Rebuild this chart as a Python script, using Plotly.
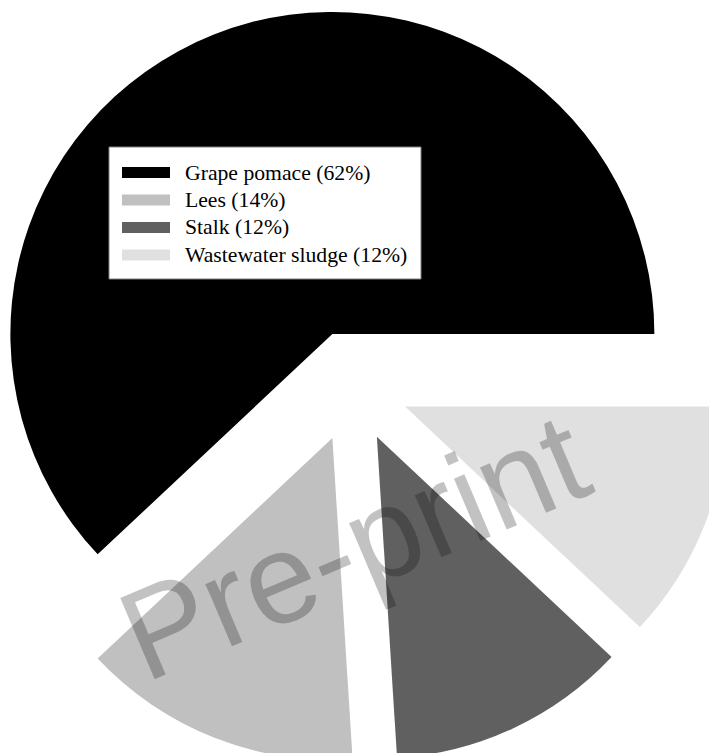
import math
import plotly.graph_objects as go

# ---- data ----
labels = ["Grape pomace", "Lees", "Stalk", "Wastewater sludge"]
shares = [62, 14, 12, 12]
colors = ["#000000", "#c0c0c0", "#606060", "#e0e0e0"]
watermark = "Pre-print"

# ---- layout geometry (pixels, in window coordinates) ----
W, H = 740, 770          # figure slightly larger than the window; the window crops it
OFF = 8                  # page body margin
CX, CY = 353, 386        # pie centre
R = 322                  # pie radius
GAP = 56                 # how far each slice is pulled out

total = sum(shares)
# first slice starts at 3 o'clock and runs counterclockwise
rotation = 90 - 360 * shares[0] / total

def px(x):
    return (x - OFF) / W

def py(y):
    return 1 - (y - OFF) / H

fig = go.Figure()
cum = 0.0
for i, v in enumerate(shares):
    mid = (cum + v / 2) / total * 2 * math.pi   # counterclockwise from 3 o'clock
    cum += v
    vx = CX + GAP * math.cos(mid)
    vy = CY - GAP * math.sin(mid)
    cols = [c if j == i else "rgba(0,0,0,0)" for j, c in enumerate(colors)]
    fig.add_trace(go.Pie(
        labels=labels, values=shares, sort=False,
        direction="counterclockwise", rotation=rotation,
        marker=dict(colors=cols, line=dict(width=0)),
        textinfo="none", hoverinfo="skip", showlegend=False,
        domain=dict(x=[max(0, px(vx - R)), min(1, px(vx + R))],
                    y=[max(0, py(vy + R)), min(1, py(vy - R))]),
    ))

shapes = [dict(type="rect", xref="paper", yref="paper",
               x0=px(109), x1=px(421), y0=py(147), y1=py(279),
               fillcolor="white", line=dict(color="#808080", width=1), layer="above")]
annotations = []
row_y = [172.5, 200, 227.5, 255]
for i, (lab, v) in enumerate(zip(labels, shares)):
    yc = row_y[i]
    shapes.append(dict(type="rect", xref="paper", yref="paper",
                       x0=px(122), x1=px(170), y0=py(yc - 5.5), y1=py(yc + 5.5),
                       fillcolor=colors[i], line=dict(width=0), layer="above"))
    annotations.append(dict(xref="paper", yref="paper", x=px(183), y=py(yc),
                            xanchor="left", yanchor="middle", showarrow=False,
                            text=f"{lab} ({v}%)",
                            font=dict(family="Liberation Serif", size=21.7, color="#000000")))

annotations.append(dict(xref="paper", yref="paper", x=px(353), y=py(546),
                        xanchor="center", yanchor="middle", showarrow=False,
                        text=watermark, textangle=-23,
                        font=dict(family="Liberation Sans", size=128,
                                  color="rgba(0,0,0,0.24)")))

fig.update_layout(
    width=W, height=H, margin=dict(l=0, r=0, t=0, b=0),
    paper_bgcolor="white", plot_bgcolor="white",
    shapes=shapes, annotations=annotations, showlegend=False,
)

fig.write_html("out.html")
